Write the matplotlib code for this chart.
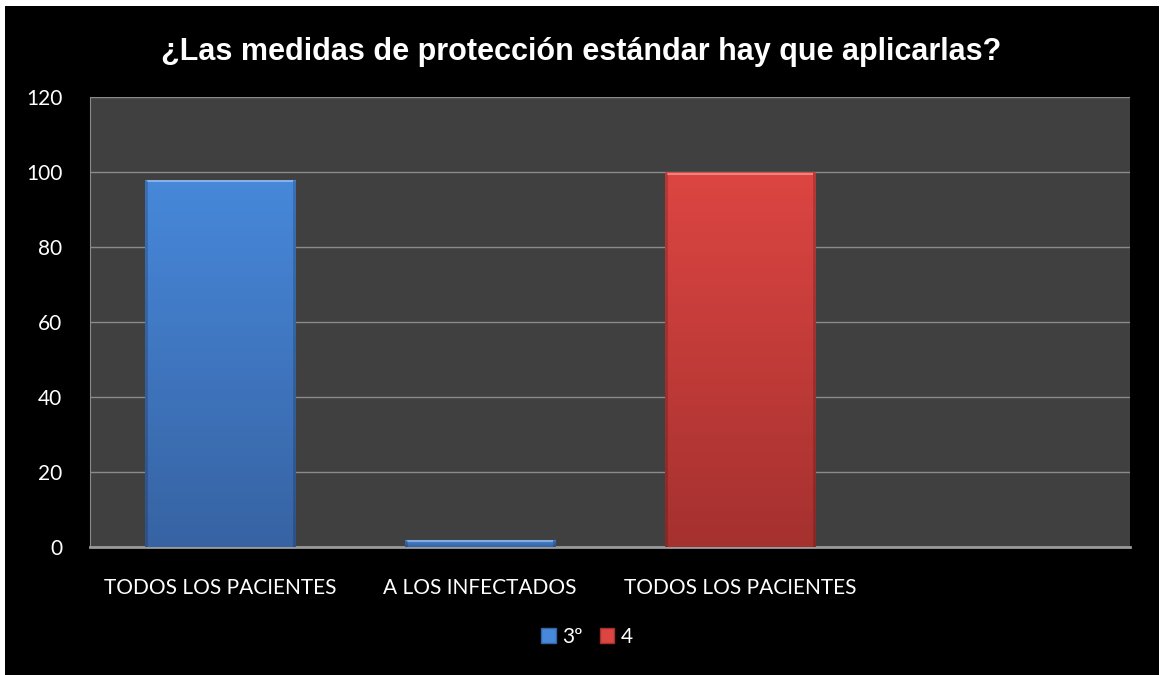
import numpy as np
import matplotlib
matplotlib.use("Agg")
import matplotlib.pyplot as plt
from matplotlib.patches import Rectangle, Patch
from matplotlib.colors import LinearSegmentedColormap

# ------------------------
# Data
# ------------------------
title = "¿Las medidas de protección estándar hay que aplicarlas?"
categories = ["TODOS LOS PACIENTES", "A LOS INFECTADOS", "TODOS LOS PACIENTES", ""]
serie_3 = [98, 2, np.nan, np.nan]
serie_4 = [np.nan, np.nan, 100, np.nan]
series_names = ["3º", "4"]
yticks = [0, 20, 40, 60, 80, 100, 120]

# colours (top, bottom of gradient)
blue = ("#4788da", "#3763a3")
red = ("#dc4542", "#a5312f")

W, H = 1162, 675
fig = plt.figure(figsize=(W / 100, H / 100), dpi=100, facecolor="white")

# black chart area inside a thin white frame
fig.patches.append(Rectangle((5 / W, 0), (1159 - 5) / W, (675 - 6) / H,
                             transform=fig.transFigure, facecolor="black",
                             edgecolor="none", zorder=-1))

ax = fig.add_axes([90 / W, (H - 547) / H, 1040 / W, 450 / H])
ax.set_zorder(2)
ax.set_facecolor("#404040")

x = np.arange(len(categories))
bw = 0.577


def gradient_bars(vals, cols):
    bars = ax.bar(x, vals, width=bw, color=cols[0], edgecolor="none", zorder=2)
    cmap = LinearSegmentedColormap.from_list("g", [cols[1], cols[0]])
    for b in bars:
        h = b.get_height()
        if not np.isfinite(h) or h <= 0:
            continue
        x0 = b.get_x()
        grad = np.linspace(0, 1, 100).reshape(-1, 1)
        im = ax.imshow(grad, cmap=cmap, aspect="auto", origin="lower",
                       extent=(x0, x0 + bw, 0, h), zorder=3)
        im.set_clip_path(b)
        # bevel: light top edge, darker sides
        ax.plot([x0 + 0.01, x0 + bw - 0.01], [h - 0.4, h - 0.4],
                color="white", alpha=0.35, lw=1.5, zorder=4)
        for xs in (x0 + 0.004, x0 + bw - 0.004):
            ax.plot([xs, xs], [0, h - 0.6], color="black", alpha=0.18,
                    lw=2, zorder=4)
    return bars


gradient_bars(serie_3, blue)
gradient_bars(serie_4, red)

ax.set_xlim(-0.5, len(categories) - 0.5)
ax.set_ylim(0, 120)
ax.set_yticks(yticks)
ax.set_xticks(x)
ax.set_xticklabels(categories)
ax.yaxis.grid(True, color="#8a8a8a", lw=1)
ax.set_axisbelow(True)
ax.tick_params(length=0, colors="white", labelsize=15)
ax.tick_params(axis="y", pad=20)
ax.tick_params(axis="x", pad=22)
for lab in ax.get_xticklabels() + ax.get_yticklabels():
    lab.set_fontfamily("Lato")

for s in ["top", "right"]:
    ax.spines[s].set_visible(False)
ax.spines["left"].set_color("#8a8a8a")
ax.spines["bottom"].set_color("#9a9a9a")
ax.spines["bottom"].set_linewidth(2)

fig.text(0.5, (H - 52) / H, title, ha="center", va="center", color="white",
         fontsize=22, fontweight="bold", family="Liberation Sans")

handles = [Patch(facecolor=blue[0], edgecolor=blue[1]),
           Patch(facecolor=red[0], edgecolor=red[1])]
fig.legend(handles, series_names, loc="center", bbox_to_anchor=(587 / W, (H - 637) / H),
           ncol=2, frameon=False, handlelength=0.7, handleheight=0.7,
           handletextpad=0.3, columnspacing=0.8,
           prop={"family": "Lato", "size": 15}, labelcolor="white")

fig.savefig("out.png", dpi=100, facecolor=fig.get_facecolor())
